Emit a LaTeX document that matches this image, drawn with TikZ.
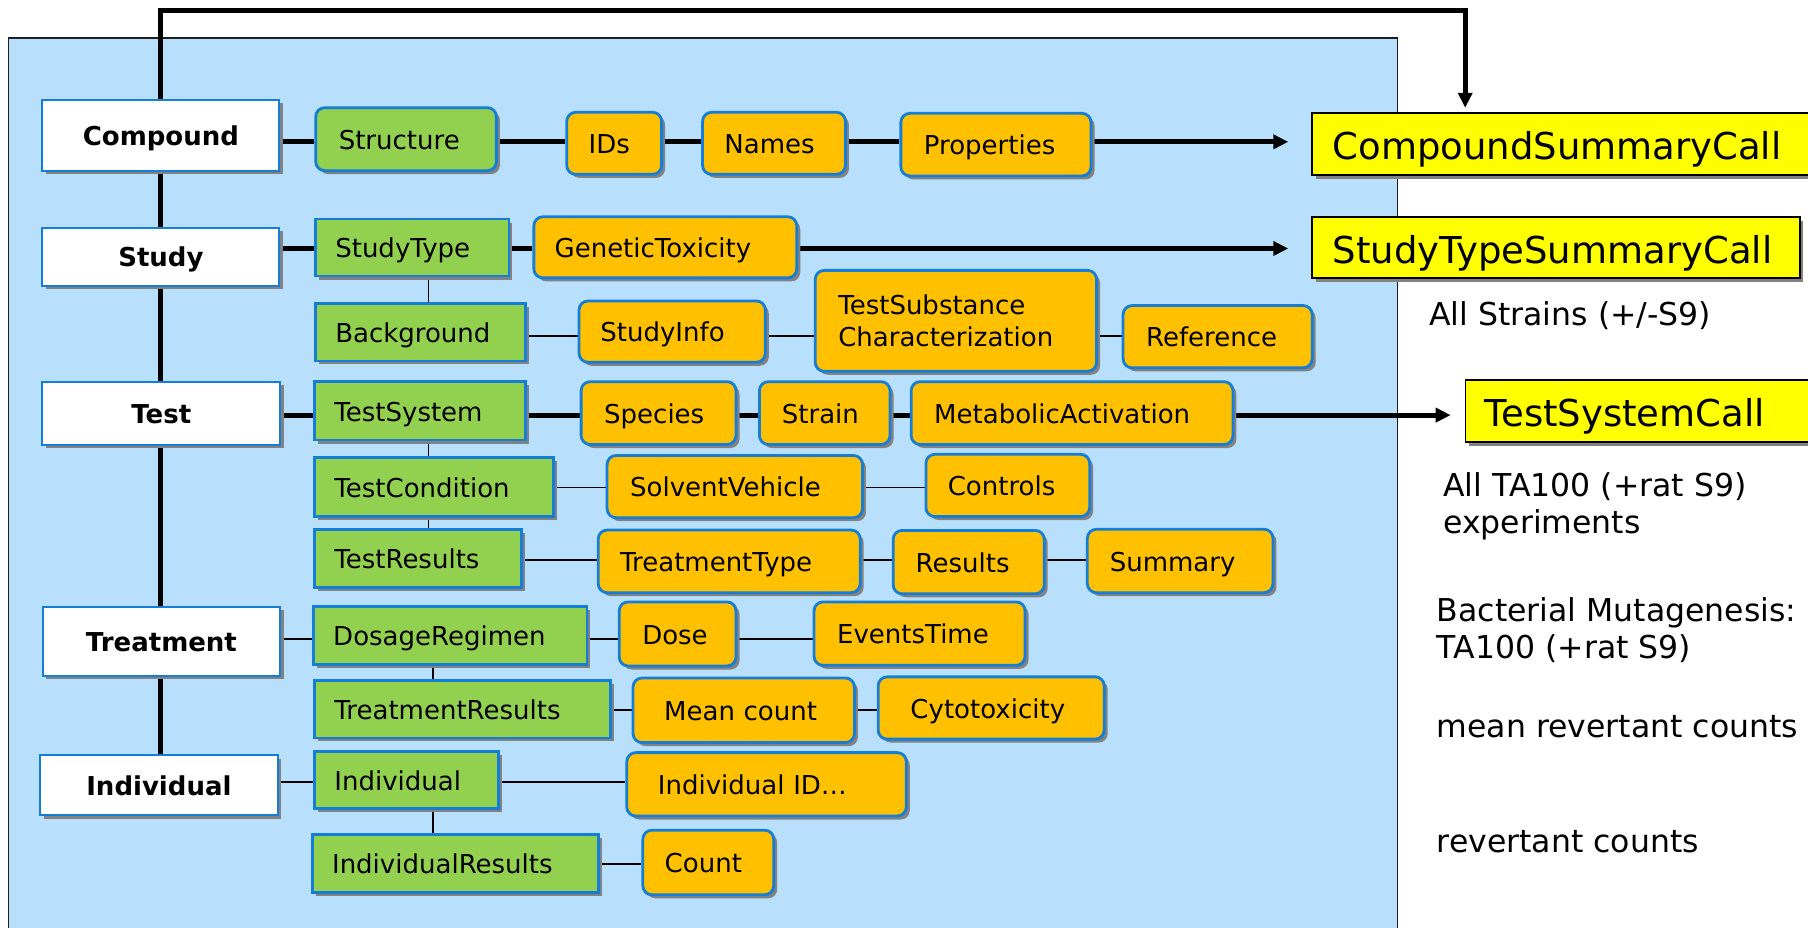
\documentclass[tikz,border=0pt]{standalone}
\usepackage{fontspec}
\setmainfont{DejaVu Sans}
\usetikzlibrary{arrows.meta,shadows}
\pgfdeclarelayer{panel}
\pgfdeclarelayer{links}
\pgfsetlayers{panel,links,main}
\definecolor{panelblue}{RGB}{184,224,252}
\definecolor{boxgreen}{RGB}{146,208,80}
\definecolor{boxorange}{RGB}{255,192,0}
\definecolor{callyellow}{RGB}{255,255,0}
\definecolor{edgeblue}{RGB}{20,125,215}
\definecolor{shadowgray}{RGB}{130,130,130}
\definecolor{paneledge}{RGB}{30,30,30}

\newcommand\mybox[8]{%
  \pgfmathsetmacro\mbw{(#5-#3-2*#7)*1.1531}%
  \pgfmathsetmacro\mbh{(#6-#4)*1.1531}%
  \pgfmathsetmacro\mbp{#7*1.1531}%
  \node[#2, inner xsep=\mbp pt, text width=\mbw pt, minimum height=\mbh pt] (#1) at ({(#3+#5)/2},{(#4+#6)/2}) {#8};}
\newcommand\hlink[4]{\draw[#1] (#2.east |- #4) -- (#3.west |- #4);}
\newcommand\vlink[4]{\draw[#1] (#2.south -| #4) -- (#3.north -| #4);}

\tikzset{
  boxbase/.style={draw=edgeblue, inner ysep=0pt, font=\fontsize{26}{32}\selectfont,
    text height=26pt, text depth=5.4pt,
    drop shadow={shadow xshift=3.5pt, shadow yshift=-3.5pt, fill=shadowgray, opacity=1}},
  lbl/.style={boxbase, fill=white, line width=2pt, align=center, font=\bfseries\fontsize{26}{32}\selectfont},
  grn/.style={boxbase, fill=boxgreen, line width=2.8pt, align=left},
  grnr/.style={grn, rounded corners=9pt},
  org/.style={boxbase, fill=boxorange, line width=2.8pt, align=left, rounded corners=9pt},
  yel/.style={boxbase, draw=black, fill=callyellow, line width=1.8pt, align=left,
    font=\fontsize{37}{42}\selectfont, text height=37pt, text depth=6pt},
  thk/.style={line width=5pt},
  thn/.style={line width=1.8pt},
  arrowtip/.style={-{Triangle[length=15pt,width=14pt]}},
  note/.style={anchor=base west, inner sep=0pt, font=\fontsize{31.5}{36.5}\selectfont},
}

\begin{document}
\begin{tikzpicture}[x=1.1531pt,y=-1.1531pt]
\useasboundingbox (0,0) rectangle (1568,804);
\clip (0,0) rectangle (1568,804);

\begin{pgfonlayer}{panel}
  \fill[white] (0,0) rectangle (1568,804);
  \fill[panelblue] (7.3,33.2) rectangle (1212,830);
  \draw[paneledge, line width=1.6pt] (7.3,830) -- (7.3,33.2) -- (1212,33.2) -- (1212,830);
\end{pgfonlayer}

% row coordinates
\coordinate (r1) at (0,123);
\coordinate (r2) at (0,215.5);
\coordinate (r2b) at (0,291.5);
\coordinate (r3) at (0,360);
\coordinate (r4) at (0,422.8);
\coordinate (r5) at (0,486);
\coordinate (r6) at (0,554);
\coordinate (r7) at (0,615.5);
\coordinate (r8) at (0,678.4);
\coordinate (r9) at (0,749.5);
\coordinate (v1) at (371.7,0);
\coordinate (v2) at (375.5,0);
\coordinate (topy) at (0,8.7);
\coordinate (cx) at (1270.7,0);

% level labels
\mybox{Compound}{lbl}{36.8}{86.7}{242.3}{148}{0}{Compound}
\mybox{Study}{lbl}{36.8}{197.4}{242.3}{247.8}{0}{Study}
\mybox{Test}{lbl}{36.8}{331}{243}{385.5}{0}{Test}
\mybox{Treatment}{lbl}{37}{526}{243}{586}{0}{Treatment}
\mybox{IndividualL}{lbl}{34.8}{655}{240.8}{707}{0}{Individual}

% green
\mybox{Structure}{grnr}{273.8}{93.4}{430.5}{148}{20}{Structure}
\mybox{StudyType}{grn}{273.8}{190}{441.4}{239.4}{17}{StudyType}
\mybox{Background}{grn}{273.8}{263}{456}{313}{17}{Background}
\mybox{TestSystem}{grn}{273}{331}{455.6}{381.6}{17}{TestSystem}
\mybox{TestCondition}{grn}{273}{396.7}{480}{447.6}{17}{TestCondition}
\mybox{TestResults}{grn}{273}{459}{452}{509.6}{17}{TestResults}
\mybox{DosageRegimen}{grn}{272}{526}{509}{576}{17}{DosageRegimen}
\mybox{TreatmentResults}{grn}{273}{590}{529.6}{640}{17}{TreatmentResults}
\mybox{IndividualG}{grn}{273}{651.8}{432.5}{701.2}{17}{Individual}
\mybox{IndividualResults}{grn}{271}{724}{518.8}{773.7}{17}{IndividualResults}

% orange
\mybox{IDs}{org}{491.5}{97.4}{573.8}{151.2}{19}{IDs}
\mybox{Names}{org}{609.3}{97.4}{733.2}{151.2}{19}{Names}
\mybox{Properties}{org}{781.3}{98.3}{946.2}{152.6}{20}{Properties}
\mybox{GeneticToxicity}{org}{463}{188}{691}{241}{18}{GeneticToxicity}
\mybox{StudyInfo}{org}{502.2}{261}{663.7}{314.2}{18.5}{StudyInfo}
\mybox{TestSubstance}{org, text height={}, text depth={}}{707}{234.5}{951}{322}{20}{TestSubstance\\Characterization}
\mybox{Reference}{org}{974}{265}{1138}{319}{20}{Reference}
\mybox{Species}{org}{504}{331}{638.3}{385.5}{20}{Species}
\mybox{Strain}{org}{658.6}{331}{771.9}{385.5}{19.5}{Strain}
\mybox{MetabolicActivation}{org}{790.2}{331}{1069.3}{385.5}{20}{MetabolicActivation}
\mybox{SolventVehicle}{org}{526.5}{395}{748}{449}{20}{SolventVehicle}
\mybox{Controls}{org}{803}{394}{945}{448}{19}{Controls}
\mybox{TreatmentType}{org}{518.8}{459.7}{746}{514}{19}{TreatmentType}
\mybox{Results}{org}{774.6}{460}{905.6}{515}{19.5}{Results}
\mybox{Summary}{org}{943}{459}{1104}{514}{19.5}{Summary}
\mybox{Dose}{org}{537}{522}{638.3}{577.6}{20}{Dose}
\mybox{EventsTime}{org}{706}{522}{889}{577}{20}{EventsTime}
\mybox{MeanCount}{org}{549}{588}{741}{644}{27}{Mean count}
\mybox{Cytotoxicity}{org}{761.6}{587}{957.6}{641}{28}{Cytotoxicity}
\mybox{IndividualID}{org}{543.6}{652.7}{786}{707.7}{27}{Individual ID…}
\mybox{Count}{org}{557.5}{720}{671}{776}{19}{Count}

% yellow calls
\mybox{CSC}{yel}{1138}{97.7}{1620}{151.8}{17.7}{CompoundSummaryCall}
\mybox{STSC}{yel}{1138}{188.5}{1560.8}{241.4}{17.7}{StudyTypeSummaryCall}
\mybox{TSC}{yel}{1271}{329.5}{1620}{383.5}{16.8}{TestSystemCall}

% notes
\node[note] (n1) at (1239.4,281.9) {All Strains (+/-S9)};
\node[note] (n2a) at (1251.6,431) {All TA100 (+rat S9)};
\node[note] (n2b) at (1251.6,462.7) {experiments};
\node[note] (n3a) at (1246,539) {Bacterial Mutagenesis:};
\node[note] (n3b) at (1246,571.5) {TA100 (+rat S9)};
\node[note] (n4) at (1246,639.7) {mean revertant counts};
\node[note] (n5) at (1246,739.6) {revertant counts};

\begin{pgfonlayer}{links}
  % backbone
  \draw[thk, arrowtip, shorten >=4pt] (Compound.north) -- (Compound.north |- topy) -| (cx |- CSC.north);
  \draw[thk] (Compound.south) -- (Study.north);
  \draw[thk] (Study.south) -- (Test.north -| Study.south);
  \draw[thk] (Test.south -| Study.south) -- (Treatment.north -| Study.south);
  \draw[thk] (Treatment.south -| Study.south) -- (IndividualL.north -| Study.south);
  % row 1
  \hlink{thk}{Compound}{Structure}{r1}
  \hlink{thk}{Structure}{IDs}{r1}
  \hlink{thk}{IDs}{Names}{r1}
  \hlink{thk}{Names}{Properties}{r1}
  \draw[thk, arrowtip, shorten >=23pt] (Properties.east |- r1) -- (CSC.west |- r1);
  % row 2
  \hlink{thk}{Study}{StudyType}{r2}
  \hlink{thk}{StudyType}{GeneticToxicity}{r2}
  \draw[thk, arrowtip, shorten >=23pt] (GeneticToxicity.east |- r2) -- (STSC.west |- r2);
  \vlink{thn}{StudyType}{Background}{v1}
  \hlink{thn}{Background}{StudyInfo}{r2b}
  \hlink{thn}{StudyInfo}{TestSubstance}{r2b}
  \hlink{thn}{TestSubstance}{Reference}{r2b}
  % row 3
  \hlink{thk}{Test}{TestSystem}{r3}
  \hlink{thk}{TestSystem}{Species}{r3}
  \hlink{thk}{Species}{Strain}{r3}
  \hlink{thk}{Strain}{MetabolicActivation}{r3}
  \draw[thk, arrowtip, shorten >=14pt] (MetabolicActivation.east |- r3) -- (TSC.west |- r3);
  \vlink{thn}{TestSystem}{TestCondition}{v1}
  \vlink{thn}{TestCondition}{TestResults}{v1}
  \hlink{thn}{TestCondition}{SolventVehicle}{r4}
  \hlink{thn}{SolventVehicle}{Controls}{r4}
  \hlink{thn}{TestResults}{TreatmentType}{r5}
  \hlink{thn}{TreatmentType}{Results}{r5}
  \hlink{thn}{Results}{Summary}{r5}
  % treatment
  \hlink{thn}{Treatment}{DosageRegimen}{r6}
  \hlink{thn}{DosageRegimen}{Dose}{r6}
  \hlink{thn}{Dose}{EventsTime}{r6}
  \vlink{thn}{DosageRegimen}{TreatmentResults}{v2}
  \hlink{thn}{TreatmentResults}{MeanCount}{r7}
  \hlink{thn}{MeanCount}{Cytotoxicity}{r7}
  % individual
  \hlink{thn}{IndividualL}{IndividualG}{r8}
  \hlink{thn}{IndividualG}{IndividualID}{r8}
  \vlink{thn}{IndividualG}{IndividualResults}{v2}
  \hlink{thn}{IndividualResults}{Count}{r9}
\end{pgfonlayer}
\end{tikzpicture}
\end{document}
